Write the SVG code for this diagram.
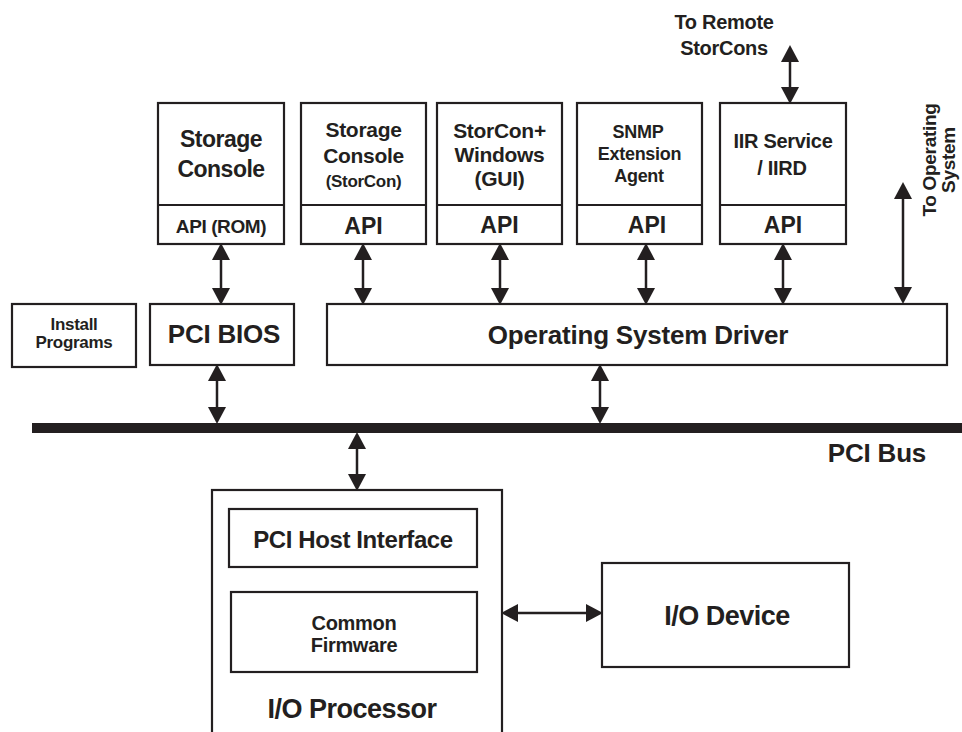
<svg xmlns="http://www.w3.org/2000/svg" width="962" height="732" viewBox="0 0 962 732">
<style>
  .box { fill: #ffffff; stroke: #231f20; stroke-width: 2.2; }
  .t { font-family: "Liberation Sans", Arial, Helvetica, sans-serif; font-weight: bold; fill: #231f20; text-anchor: middle; }
  .conn { stroke: #231f20; stroke-width: 2.5; fill: none; marker-start: url(#ah); marker-end: url(#ah); }
</style>
<defs>
  <marker id="ah" markerUnits="userSpaceOnUse" markerWidth="18" markerHeight="18" refX="8" refY="9" orient="auto-start-reverse" viewBox="0 0 18 18">
    <path d="M0,0 L17,9 L0,18 Z" fill="#231f20"/>
  </marker>
</defs>
<rect width="962" height="732" fill="#ffffff"/>

<g id="storage-console-rom">
  <rect class="box" x="158" y="103" width="126" height="141"/>
  <line x1="158" y1="205" x2="284" y2="205" stroke="#231f20" stroke-width="2.2"/>
  <text class="t" x="221" y="147" font-size="23" letter-spacing="-0.5">Storage</text>
  <text class="t" x="221" y="177" font-size="23" letter-spacing="-0.5">Console</text>
  <text class="t" x="221" y="233" font-size="19" letter-spacing="-0.4">API (ROM)</text>
</g>

<g id="storage-console-storcon">
  <rect class="box" x="301" y="103" width="125" height="141"/>
  <line x1="301" y1="205" x2="426" y2="205" stroke="#231f20" stroke-width="2.2"/>
  <text class="t" x="363.5" y="137" font-size="21" letter-spacing="-0.3">Storage</text>
  <text class="t" x="363.5" y="163" font-size="21" letter-spacing="-0.3">Console</text>
  <text class="t" x="363.5" y="187" font-size="17" letter-spacing="-0.3">(StorCon)</text>
  <text class="t" x="363.5" y="234" font-size="23">API</text>
</g>

<g id="storcon-windows">
  <rect class="box" x="437" y="103" width="125" height="141"/>
  <line x1="437" y1="205" x2="562" y2="205" stroke="#231f20" stroke-width="2.2"/>
  <text class="t" x="499.5" y="138" font-size="21" letter-spacing="-0.3">StorCon+</text>
  <text class="t" x="499.5" y="162" font-size="21" letter-spacing="-0.3">Windows</text>
  <text class="t" x="499.5" y="186" font-size="21" letter-spacing="-0.3">(GUI)</text>
  <text class="t" x="499.5" y="233" font-size="23">API</text>
</g>

<g id="snmp-agent">
  <rect class="box" x="577" y="103" width="125" height="141"/>
  <line x1="577" y1="205" x2="702" y2="205" stroke="#231f20" stroke-width="2.2"/>
  <text class="t" x="638" y="138" font-size="18" letter-spacing="-0.3">SNMP</text>
  <text class="t" x="639.5" y="160" font-size="18" letter-spacing="-0.3">Extension</text>
  <text class="t" x="639" y="182" font-size="18" letter-spacing="-0.3">Agent</text>
  <text class="t" x="647" y="233" font-size="23">API</text>
</g>

<g id="iir-service">
  <rect class="box" x="720" y="103" width="126" height="141"/>
  <line x1="720" y1="205" x2="846" y2="205" stroke="#231f20" stroke-width="2.2"/>
  <text class="t" x="783" y="148" font-size="20" letter-spacing="-0.3">IIR Service</text>
  <text class="t" x="782" y="175" font-size="20" letter-spacing="-0.3">/ IIRD</text>
  <text class="t" x="783" y="233" font-size="23">API</text>
</g>

<g id="remote-label">
  <text class="t" x="724" y="29" font-size="20" letter-spacing="-0.3">To Remote</text>
  <text class="t" x="724" y="55" font-size="20" letter-spacing="-0.3">StorCons</text>
</g>

<g id="os-label">
  <text class="t" font-size="19" letter-spacing="-0.3" transform="translate(936,160) rotate(-90)">To Operating</text>
  <text class="t" font-size="19" letter-spacing="-0.3" transform="translate(955,160) rotate(-90)">System</text>
</g>

<g id="install-programs">
  <rect class="box" x="12" y="304" width="124" height="63"/>
  <text class="t" x="74" y="330" font-size="17" letter-spacing="-0.3">Install</text>
  <text class="t" x="74" y="348" font-size="17" letter-spacing="-0.3">Programs</text>
</g>

<g id="pci-bios">
  <rect class="box" x="150" y="304" width="144" height="61"/>
  <text class="t" x="224" y="343" font-size="26" letter-spacing="-0.2">PCI BIOS</text>
</g>

<g id="os-driver">
  <rect class="box" x="327" y="304" width="620" height="61"/>
  <text class="t" x="638" y="344" font-size="26" letter-spacing="-0.2">Operating System Driver</text>
</g>

<g id="pci-bus">
  <rect x="32" y="423" width="930" height="10" fill="#231f20"/>
  <text class="t" x="877" y="462" font-size="26" letter-spacing="-0.2">PCI Bus</text>
</g>

<g id="io-processor">
  <rect class="box" x="212" y="490" width="290" height="260"/>
  <text class="t" x="352" y="718" font-size="27" letter-spacing="-0.5">I/O Processor</text>
</g>

<g id="pci-host-interface">
  <rect class="box" x="229" y="509" width="248" height="58"/>
  <text class="t" x="353" y="548" font-size="24" letter-spacing="-0.4">PCI Host Interface</text>
</g>

<g id="common-firmware">
  <rect class="box" x="231" y="592" width="246" height="80"/>
  <text class="t" x="354" y="630" font-size="20" letter-spacing="-0.3">Common</text>
  <text class="t" x="354" y="652" font-size="20" letter-spacing="-0.3">Firmware</text>
</g>

<g id="io-device">
  <rect class="box" x="602" y="563" width="247" height="104"/>
  <text class="t" x="727" y="625" font-size="27" letter-spacing="-0.5">I/O Device</text>
</g>

<g id="connectors">
  <line class="conn" x1="221" y1="252" x2="221" y2="296"/>
  <line class="conn" x1="363" y1="252" x2="363" y2="296"/>
  <line class="conn" x1="500" y1="252" x2="500" y2="296"/>
  <line class="conn" x1="646" y1="252" x2="646" y2="296"/>
  <line class="conn" x1="783" y1="252" x2="783" y2="296"/>
  <line class="conn" x1="790" y1="54" x2="790" y2="95"/>
  <line class="conn" x1="903" y1="191" x2="903" y2="295"/>
  <line class="conn" x1="217" y1="373" x2="217" y2="415"/>
  <line class="conn" x1="600" y1="373" x2="600" y2="415"/>
  <line class="conn" x1="357" y1="441" x2="357" y2="482"/>
  <line class="conn" x1="510" y1="613" x2="594" y2="613"/>
</g>
</svg>
